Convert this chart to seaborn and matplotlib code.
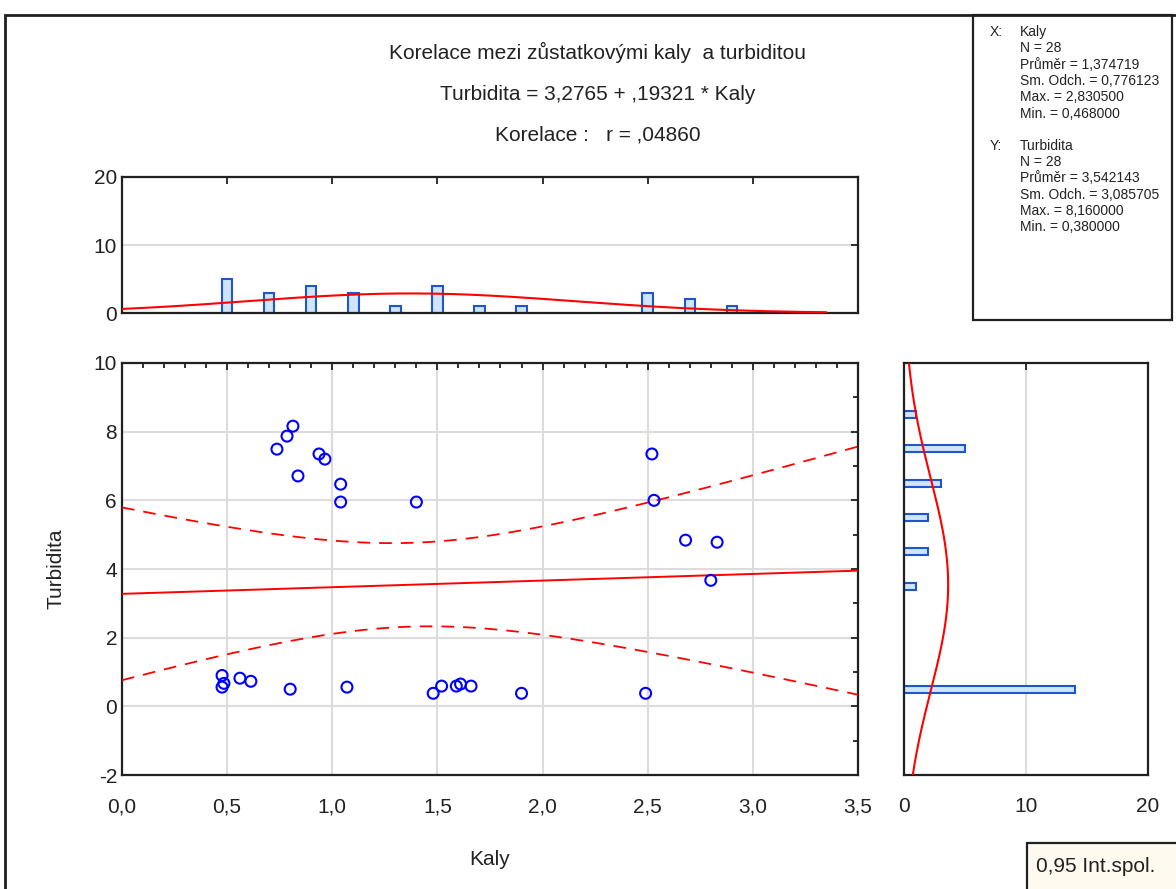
import numpy as np
import matplotlib
matplotlib.use("Agg")
import matplotlib.pyplot as plt
from matplotlib.patches import Rectangle
from matplotlib.ticker import MultipleLocator, FuncFormatter
import seaborn as sns

# scatter points
kaly = [0.737, 0.785, 0.813, 0.837, 0.937, 0.965, 1.04, 1.04, 1.40, 2.52, 2.53, 2.68, 2.83, 2.80,
        1.48, 1.52, 1.59, 1.61, 1.66, 1.90, 2.49,
        0.476, 0.476, 0.485, 0.561, 0.613, 0.80, 1.07]
turbidita = [7.49, 7.87, 8.16, 6.71, 7.35, 7.20, 6.47, 5.95, 5.95, 7.35, 6.00, 4.84, 4.78, 3.67,
             0.38, 0.59, 0.59, 0.65, 0.59, 0.38, 0.38,
             0.90, 0.56, 0.67, 0.82, 0.73, 0.50, 0.56]

# marginal histograms (bin centres and counts)
kaly_bins = [0.5, 0.7, 0.9, 1.1, 1.3, 1.5, 1.7, 1.9, 2.5, 2.7, 2.9]
kaly_counts = [5, 3, 4, 3, 1, 4, 1, 1, 3, 2, 1]
turb_bins = [0.5, 3.5, 4.5, 5.5, 6.5, 7.5, 8.5]
turb_counts = [14, 1, 2, 2, 3, 5, 1]

# statistics printed on the chart
n = 28
x_mean, x_sd, x_max, x_min = 1.374719, 0.776123, 2.830500, 0.468000
y_mean, y_sd, y_max, y_min = 3.542143, 3.085705, 8.160000, 0.380000
intercept, slope, r = 3.2765, 0.19321, 0.04860
t_crit = 2.0555  # t(0.975, n-2)

RED = "#ff0000"
BAR_FACE = "#cfe5fb"
BAR_EDGE = "#1f56d0"
GRID = "#dcdcdc"


def comma(v, pos):
    return f"{v:.1f}".replace(".", ",")


def style_axes(ax):
    for s in ax.spines.values():
        s.set_linewidth(1.6)
        s.set_color("#202020")
    ax.tick_params(which="both", direction="in", top=True, right=True,
                   width=1.3, colors="#202020", labelcolor="#222222", labelsize=15)
    ax.tick_params(which="major", length=5)
    ax.tick_params(which="minor", length=3.5)


sns.set_style("white")
plt.rcParams["font.family"] = ["Liberation Sans", "DejaVu Sans"]
plt.rcParams["axes.unicode_minus"] = False

fig = plt.figure(figsize=(11.76, 8.89), dpi=100)
ax = fig.add_axes([0.1037, 0.1282, 0.6259, 0.4635])
ax_top = fig.add_axes([0.1037, 0.6479, 0.6259, 0.1530])
ax_right = fig.add_axes([0.7687, 0.1282, 0.2075, 0.4635])

# --- main scatter with regression line and 95% band
xs = np.linspace(0, 3.5, 200)
s_res = y_sd * np.sqrt(1 - r ** 2) * np.sqrt((n - 1) / (n - 2))
se = s_res * np.sqrt(1 / n + (xs - x_mean) ** 2 / ((n - 1) * x_sd ** 2))
fit = intercept + slope * xs

ax.plot(xs, fit, color=RED, lw=1.4, zorder=3)
ax.plot(xs, fit + t_crit * se, color=RED, lw=1.3, ls=(0, (7, 5)), zorder=3)
ax.plot(xs, fit - t_crit * se, color=RED, lw=1.3, ls=(0, (7, 5)), zorder=3)
sns.scatterplot(x=kaly, y=turbidita, ax=ax, marker="o", s=62, facecolor="none",
                edgecolor="#0000ff", linewidth=1.5, zorder=4)

ax.set_xlim(0, 3.5)
ax.set_ylim(-2, 10)
ax.xaxis.set_major_locator(MultipleLocator(0.5))
ax.xaxis.set_minor_locator(MultipleLocator(0.1))
ax.yaxis.set_major_locator(MultipleLocator(2))
ax.yaxis.set_minor_locator(MultipleLocator(1))
ax.xaxis.set_major_formatter(FuncFormatter(comma))
ax.grid(True, which="major", color=GRID, lw=1.5, zorder=0)
ax.set_axisbelow(True)
style_axes(ax)
ax.tick_params(axis="x", pad=16)
ax.set_xlabel("Kaly", fontsize=15, labelpad=24, color="#222222")
ax.set_ylabel("Turbidita", fontsize=15, labelpad=20, color="#222222")

# --- top histogram of Kaly
ax_top.bar(kaly_bins, kaly_counts, width=0.05, color=BAR_FACE, edgecolor=BAR_EDGE,
           linewidth=1.5, zorder=2)
xc = np.linspace(0, 3.35, 200)
top_curve = n * 0.2 * np.exp(-0.5 * ((xc - x_mean) / x_sd) ** 2) / (x_sd * np.sqrt(2 * np.pi))
sns.lineplot(x=xc, y=top_curve, ax=ax_top, color=RED, lw=1.5, zorder=3)
ax_top.set_xlim(0, 3.5)
ax_top.set_ylim(0, 20)
ax_top.xaxis.set_major_locator(MultipleLocator(0.5))
ax_top.yaxis.set_major_locator(MultipleLocator(10))
ax_top.set_xticklabels([])
ax_top.grid(True, axis="y", color=GRID, lw=1.5, zorder=0)
ax_top.set_axisbelow(True)
style_axes(ax_top)

# --- right histogram of Turbidita
ax_right.barh(turb_bins, turb_counts, height=0.2, color=BAR_FACE, edgecolor=BAR_EDGE,
              linewidth=1.5, zorder=2)
yc = np.linspace(-2, 10, 200)
right_curve = n * 1.0 * np.exp(-0.5 * ((yc - y_mean) / y_sd) ** 2) / (y_sd * np.sqrt(2 * np.pi))
sns.lineplot(x=right_curve, y=yc, ax=ax_right, color=RED, lw=1.5, sort=False, zorder=3)
ax_right.set_xlim(0, 20)
ax_right.set_ylim(-2, 10)
ax_right.xaxis.set_major_locator(MultipleLocator(10))
ax_right.yaxis.set_major_locator(MultipleLocator(2))
ax_right.set_yticklabels([])
ax_right.grid(True, axis="x", color=GRID, lw=1.5, zorder=0)
ax_right.set_axisbelow(True)
style_axes(ax_right)
ax_right.tick_params(axis="x", pad=16)
ax_right.tick_params(right=False)

# --- titles
fig.text(0.508, 1 - 52 / 889, "Korelace mezi zůstatkovými kaly  a turbiditou",
         ha="center", va="center", fontsize=15, color="#222222")
fig.text(0.508, 1 - 95 / 889, "Turbidita = 3,2765 + ,19321 * Kaly",
         ha="center", va="center", fontsize=15, color="#222222")
fig.text(0.508, 1 - 135 / 889, "Korelace :   r = ,04860",
         ha="center", va="center", fontsize=15, color="#222222")

# --- statistics box
fig.patches.append(Rectangle((973 / 1176, 1 - 320 / 889), (1172 - 973) / 1176, (320 - 15) / 889,
                             transform=fig.transFigure, fill=False, lw=1.6, ec="#202020"))


def num(v):
    return f"{v:.6f}".replace(".", ",")


stats_lines = [
    ("X:", "Kaly"), ("", f"N = {n}"), ("", f"Průměr = {num(x_mean)}"),
    ("", f"Sm. Odch. = {num(x_sd)}"), ("", f"Max. = {num(x_max)}"), ("", f"Min. = {num(x_min)}"),
    None,
    ("Y:", "Turbidita"), ("", f"N = {n}"), ("", f"Průměr = {num(y_mean)}"),
    ("", f"Sm. Odch. = {num(y_sd)}"), ("", f"Max. = {num(y_max)}"), ("", f"Min. = {num(y_min)}"),
]
ypix = 32
for line in stats_lines:
    if line is None:
        ypix += 16
        continue
    tag, txt = line
    if tag:
        fig.text(990 / 1176, 1 - ypix / 889, tag, fontsize=10, va="center", color="#222222")
    fig.text(1020 / 1176, 1 - ypix / 889, txt, fontsize=10, va="center", color="#222222")
    ypix += 16.3

# --- legend box bottom right
fig.patches.append(Rectangle((1027 / 1176, -0.01), 0.2, (889 - 843) / 889 + 0.01,
                             transform=fig.transFigure, fc="#fffaf0", ec="#202020", lw=1.6))
fig.text(1036 / 1176, 1 - 867 / 889, "0,95 Int.spol.", fontsize=15, va="center", color="#222222")

# --- outer frame
fig.patches.append(Rectangle((5 / 1176, -0.01), 1.0, 1 - 15 / 889 + 0.01,
                             transform=fig.transFigure, fill=False, lw=2, ec="#202020"))

fig.savefig("out.png", dpi=100)
